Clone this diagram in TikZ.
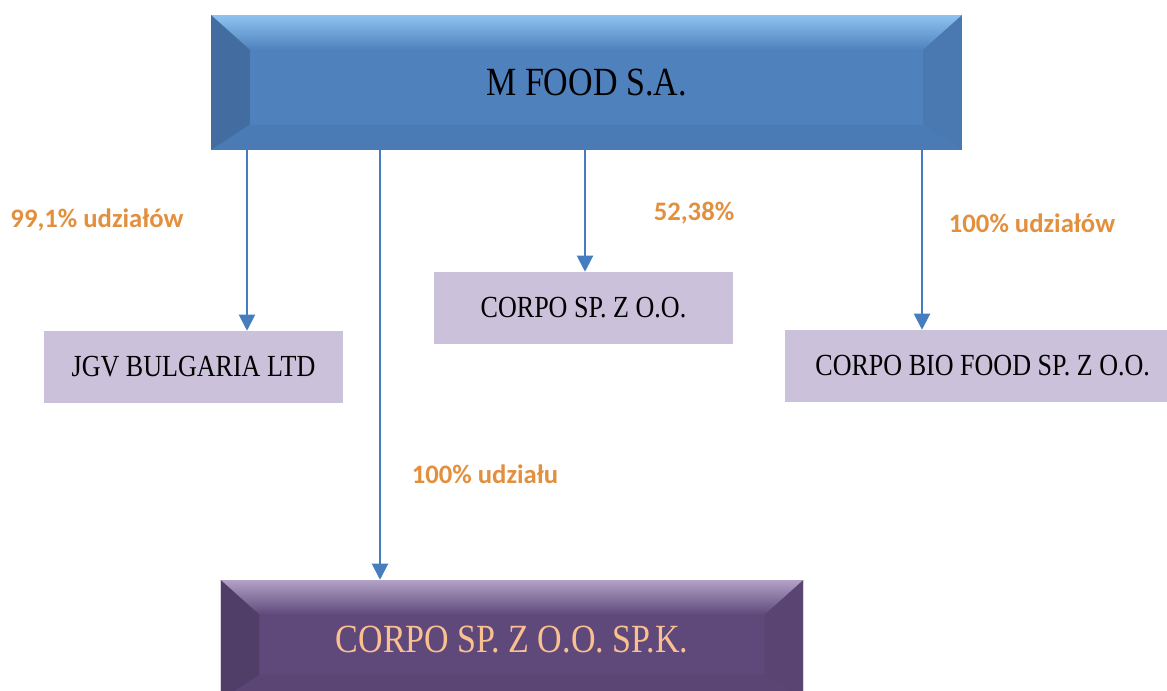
\documentclass[tikz,border=0pt]{standalone}
\usepackage{fontspec}
\setmainfont{Liberation Serif}[FakeStretch=0.85]
\newfontfamily\lblfont{Carlito}
\usepackage{tikz}
\usetikzlibrary{calc,shapes,positioning}
\usetikzlibrary{arrows.meta}
\definecolor{mblue}{RGB}{79,129,189}
\definecolor{mbluelight}{RGB}{142,195,240}
\definecolor{mpurple}{RGB}{95,73,122}
\definecolor{mpurplelight}{RGB}{179,162,199}
\definecolor{lilac}{RGB}{204,193,218}
\definecolor{linkblue}{RGB}{70,125,190}
\definecolor{pctorange}{RGB}{226,143,62}
\definecolor{peach}{RGB}{250,192,144}
\tikzset{>={Triangle[width=12pt,length=12pt]}}

\begin{document}
\begin{tikzpicture}[x=0.75pt,y=-0.75pt]
    % bevelled box: #1 base colour, #2 highlight colour
    \tikzset{
      bevel/.style 2 args={fill=#1, inner sep=0pt, align=center,
        path picture={
          \coordinate (nw) at (path picture bounding box.north west);
          \coordinate (ne) at (path picture bounding box.north east);
          \coordinate (sw) at (path picture bounding box.south west);
          \coordinate (se) at (path picture bounding box.south east);
          \fill[top color=#2, bottom color=#1] (nw) -- (ne) -- ([shift={(-29pt,-26pt)}]ne) -- ([shift={(29pt,-26pt)}]nw) -- cycle;
          \fill[#1!75!black, opacity=0.6] (nw) -- ([shift={(29pt,-26pt)}]nw) -- ([shift={(29pt,19pt)}]sw) -- (sw) -- cycle;
          \fill[#1!90!black, opacity=0.6] (ne) -- ([shift={(-29pt,-26pt)}]ne) -- ([shift={(-29pt,19pt)}]se) -- (se) -- cycle;
          \fill[#1!92!black, opacity=0.5] (sw) -- ([shift={(29pt,19pt)}]sw) -- ([shift={(-29pt,19pt)}]se) -- (se) -- cycle;
        }},
      topbox/.style = {bevel={mblue}{mbluelight}, minimum width=563pt, minimum height=101pt,
        font=\fontsize{30}{36}\selectfont},
      basebox/.style = {bevel={mpurple}{mpurplelight}, minimum width=437pt, minimum height=90pt,
        text=peach, font=\fontsize{30}{36}\selectfont},
      subbox/.style = {fill=lilac, inner sep=0pt, minimum width=224pt, minimum height=54pt,
        font=\fontsize{23}{27}\selectfont},
      pct/.style = {text=pctorange, font=\lblfont\bfseries\fontsize{20}{24}\selectfont},
      link/.style = {->, draw=linkblue, line width=1.5pt}
    }
    \useasboundingbox (0,0) rectangle (1167,690);
    \clip (0,0) rectangle (1167,690);

    \node[topbox] (mfood) at (586.5,82.5) {M FOOD S.A.};

    \node[subbox] (jgv) at (193.5,367) {JGV BULGARIA LTD};
    \node[subbox] (corpo) at (583.5,308) {CORPO SP. Z O.O.};
    \node[subbox, minimum width=287pt] (bio) at (976,366) {\hspace{10pt}CORPO BIO FOOD SP. Z O.O.};
    \node[basebox] (spk) at (512,640) {CORPO SP. Z O.O. SP.K.};

    \node[pct] (pjgv) at (97,220) {99,1\% udziałów};
    \node[pct] (pcorpo) at (694,213) {52,38\%};
    \node[pct] (pbio) at (1032,223) {100\% udziałów};
    \node[pct] (pspk) at (485,474) {100\% udziału};

    \coordinate (a1) at (247,0);
    \coordinate (a2) at (380,0);
    \coordinate (a3) at (585,0);
    \coordinate (a4) at (922,0);

    \draw[link] (mfood.south -| a1) -- (jgv.north -| a1);
    \draw[link] (mfood.south -| a2) -- (spk.north -| a2);
    \draw[link] (mfood.south -| a3) -- (corpo.north -| a3);
    \draw[link] (mfood.south -| a4) -- (bio.north -| a4);
\end{tikzpicture}
\end{document}
